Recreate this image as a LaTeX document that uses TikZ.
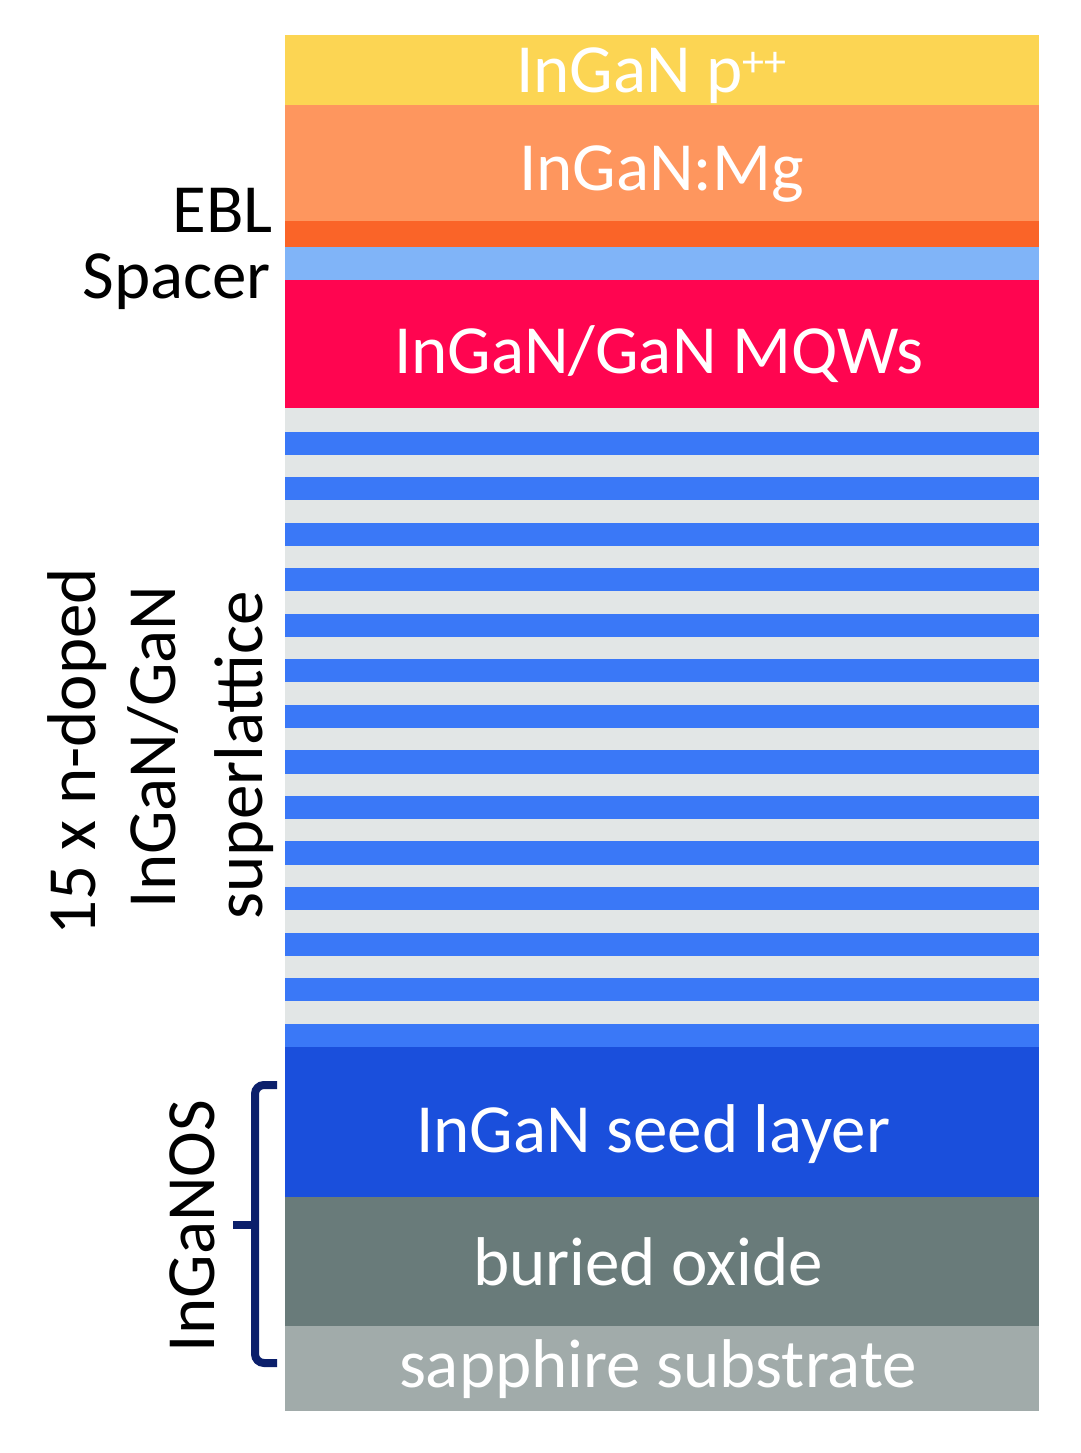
\documentclass[tikz,border=0pt]{standalone}
\usepackage{fontspec}
\setmainfont{Carlito}
\definecolor{cYel}{HTML}{FCD553}
\definecolor{cOra}{HTML}{FE965E}
\definecolor{cEbl}{HTML}{FA6428}
\definecolor{cSpa}{HTML}{80B4F8}
\definecolor{cRed}{HTML}{FF0550}
\definecolor{cGry}{HTML}{E2E6E6}
\definecolor{cBlu}{HTML}{3A78F7}
\definecolor{cSeed}{HTML}{1A4FDC}
\definecolor{cOx}{HTML}{697B7A}
\definecolor{cSap}{HTML}{A1ABAA}
\definecolor{cBrace}{HTML}{0B1F6B}
\begin{document}
\begin{tikzpicture}[x=1pt,y=-1pt,
  layer/.style={rectangle,draw=none,inner sep=0pt,outer sep=0pt,minimum width=754pt,anchor=north west},
  lbl/.style={inner sep=0pt,outer sep=0pt,font=\fontsize{69}{80}\selectfont},
  wlbl/.style={lbl,text=white,anchor=base west},
  blbl/.style={lbl,text=black},
  bracestyle/.style={draw=cBrace,line width=8pt}]
\useasboundingbox[fill=white] (0,0) rectangle (1080,1453);
% layers
\node[layer,fill=cYel,minimum height=71pt] (pp) at (285,35) {};
\node[layer,fill=cOra,minimum height=117pt] (mg) at (285,105) {};
\node[layer,fill=cEbl,minimum height=27pt] (ebl) at (285,221) {};
\node[layer,fill=cSpa,minimum height=34pt] (spa) at (285,247) {};
\node[layer,fill=cRed,minimum height=129pt] (mqw) at (285,280) {};
\node[layer,fill=cGry,minimum height=640pt] (sl) at (285,408) {};
\foreach \k in {0,...,13}{
  \node[layer,fill=cBlu,minimum height=23.2pt] (s\k) at (285,431.5+45.55*\k) {};
}
\node[layer,fill=cSeed,minimum height=151pt] (seed) at (285,1046.5) {};
\node[layer,fill=cOx,minimum height=130pt] (ox) at (285,1197) {};
\node[layer,fill=cSap,minimum height=85pt] (sap) at (285,1326) {};
% layer texts
\node[wlbl] (tpp) at (516,93) {InGaN p\raisebox{16pt}{\fontsize{44}{44}\selectfont ++}};
\node[wlbl] (tmg) at (519,190) {InGaN:Mg};
\node[wlbl] (tmqw) at (394,373) {InGaN/GaN MQWs};
\node[wlbl] (tseed) at (416,1152) {InGaN seed layer};
\node[wlbl] (tox) at (473,1285) {buried oxide};
\node[wlbl] (tsap) at (399,1387) {sapphire substrate};
% left labels
\node[blbl,anchor=base east] (tebl) at (273,232) {EBL};
\node[blbl,anchor=base east] (tspa) at (271,298) {Spacer};
\node[blbl,anchor=base,rotate=90] (t15) at (95,752) {15 x n-doped};
\node[blbl,anchor=base,rotate=90] (tig) at (175,747) {InGaN/GaN};
\node[blbl,anchor=base,rotate=90] (tsup) at (262,755) {superlattice};
\node[blbl,anchor=base,rotate=90] (tos) at (214,1226) {InGaNOS};
% brace
\coordinate (bt) at (277,1085);
\coordinate (bb) at (277,1363);
\coordinate (btip) at (233,1225);
\coordinate (bmid) at (255,1225);
\draw[bracestyle] (bt) -- (264,1085) to[out=180,in=90] (255,1094) -- (255,1354) to[out=-90,in=180] (264,1363) -- (bb);
\draw[bracestyle] (btip) -- (bmid);
\end{tikzpicture}
\end{document}
